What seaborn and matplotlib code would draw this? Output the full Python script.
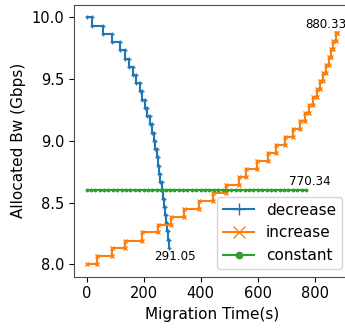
import matplotlib
matplotlib.use("Agg")
import matplotlib.pyplot as plt
import seaborn as sns
import pandas as pd

# ---- data ----
dec_t = [0, 19, 56, 89, 118, 135, 150, 163, 175, 186, 196, 205, 213, 221, 228,
         235, 241, 246, 251, 255, 259, 263, 267, 271, 275, 279, 283, 287, 291.05]
dec_v = [10.0, 9.933, 9.866, 9.8, 9.733, 9.666, 9.6, 9.533, 9.466, 9.4, 9.333,
         9.266, 9.2, 9.133, 9.066, 9.0, 8.933, 8.866, 8.8, 8.733, 8.666, 8.6,
         8.533, 8.466, 8.4, 8.333, 8.266, 8.2, 8.133]

inc_t = [0, 36, 89, 136, 195, 250, 295, 342, 395, 444, 489, 536, 560, 598, 636,
         666, 695, 724, 750, 766, 780, 795, 808, 820, 831, 841, 850, 858, 866,
         874, 880.33]
inc_v = [8.0, 8.064, 8.129, 8.193, 8.258, 8.322, 8.387, 8.451, 8.516, 8.58,
         8.645, 8.709, 8.774, 8.838, 8.903, 8.967, 9.032, 9.096, 9.161, 9.225,
         9.29, 9.354, 9.419, 9.483, 9.548, 9.612, 9.677, 9.741, 9.806, 9.87, 9.87]

const_t = [0, 15.4, 30.8, 46.2, 61.6, 77.0, 92.4, 107.8, 123.2, 138.6, 154.0,
           169.4, 184.8, 200.2, 215.6, 231.0, 246.4, 261.8, 277.2, 292.6, 308.0,
           323.4, 338.8, 354.2, 369.6, 385.0, 400.4, 415.8, 431.2, 446.6, 462.0,
           477.4, 492.8, 508.2, 523.6, 539.0, 554.4, 569.8, 585.2, 600.6, 616.0,
           631.4, 646.8, 662.2, 677.6, 693.0, 708.4, 723.8, 739.2, 754.6, 770.34]
const_v = [8.6, 8.6, 8.6, 8.6, 8.6, 8.6, 8.6, 8.6, 8.6, 8.6, 8.6, 8.6, 8.6,
           8.6, 8.6, 8.6, 8.6, 8.6, 8.6, 8.6, 8.6, 8.6, 8.6, 8.6, 8.6, 8.6,
           8.6, 8.6, 8.6, 8.6, 8.6, 8.6, 8.6, 8.6, 8.6, 8.6, 8.6, 8.6, 8.6,
           8.6, 8.6, 8.6, 8.6, 8.6, 8.6, 8.6, 8.6, 8.6, 8.6, 8.6, 8.6]

series_names = ["decrease", "increase", "constant"]
colors = ["#1f77b4", "#ff7f0e", "#2ca02c"]
markers = ["+", "x", "."]


def step_corners(t, v):
    xs, ys = [], []
    for i in range(len(t) - 1):
        xs += [t[i], t[i + 1]]
        ys += [v[i], v[i]]
    xs.append(t[-1])
    ys.append(v[-1])
    return xs, ys


dx, dy = step_corners(dec_t, dec_v)
ix, iy = step_corners(inc_t, inc_v)
frames = [
    pd.DataFrame({"t": dx, "bw": dy}),
    pd.DataFrame({"t": ix, "bw": iy}),
    pd.DataFrame({"t": const_t, "bw": const_v}),
]

fig = plt.figure(figsize=(3.45, 3.31), dpi=100)
ax = fig.add_axes([74 / 345, 1 - 276.7 / 331, 276 / 345, 271.7 / 331])

for df, name, c, m in zip(frames, series_names, colors, markers):
    sns.lineplot(data=df, x="t", y="bw", ax=ax, estimator=None, sort=False,
                 color=c, marker=m, linewidth=1.5, label=name)

for line, c in zip(ax.lines, colors):
    line.set_markersize(3.5)
    line.set_markeredgecolor(c)
    line.set_markerfacecolor(c)
    line.set_markeredgewidth(1.0)

# end-point annotations
ends = [(dec_t[-1], dec_v[-1], (4, -6.5)),
        (inc_t[-1], inc_v[-1], (-8.6, 6.7)),
        (const_t[-1], const_v[-1], (2.5, 6.5))]
for x, y, off in ends:
    ax.annotate(f"{x:.2f}", xy=(x, y), xytext=off, textcoords="offset points",
                ha="center", va="center", fontsize=8.6)

ax.margins(x=0.05, y=0.05)
ax.set_xlabel("Migration Time(s)", fontsize=11)
ax.set_ylabel("Allocated Bw (Gbps)", fontsize=11)
ax.set_xticks([0, 200, 400, 600, 800])
ax.set_yticks([8.0, 8.5, 9.0, 9.5, 10.0])
ax.set_yticklabels(["8.0", "8.5", "9.0", "9.5", "10.0"])
ax.tick_params(labelsize=10.5)
for s in ax.spines.values():
    s.set_edgecolor("0.3")

ax.legend(loc="lower right", fontsize=11, markerscale=2.6)

fig.savefig("out.png", dpi=100)
